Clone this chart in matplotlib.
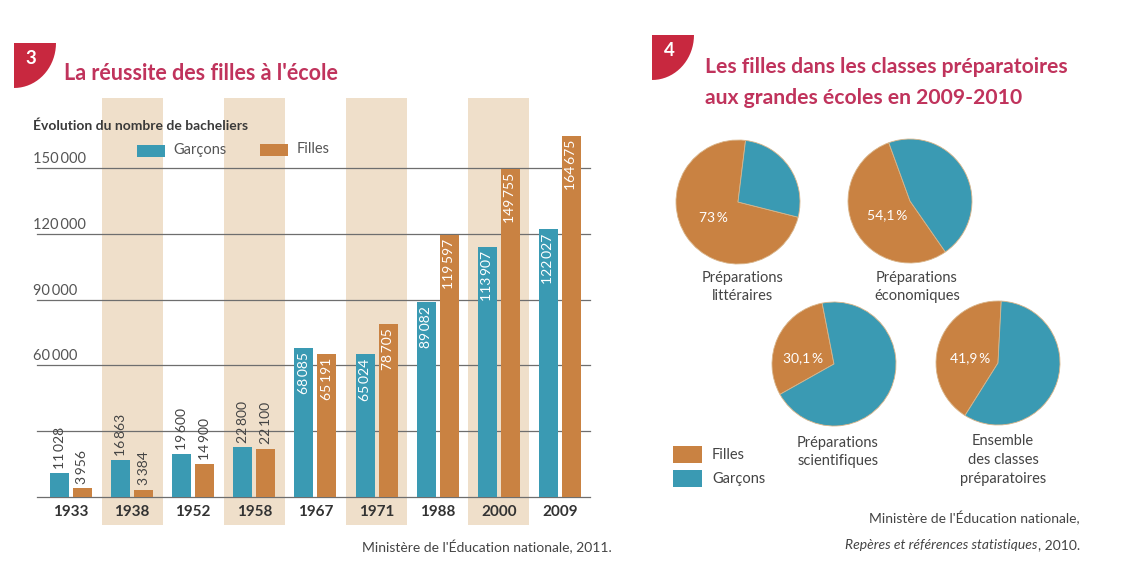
import matplotlib.pyplot as plt
import numpy as np
from matplotlib.patches import Polygon, Rectangle

plt.rcParams['font.family'] = ['Lato', 'DejaVu Sans']
plt.rcParams['text.color'] = '#3c3c3c'

W, H = 1122, 574

# data - bacheliers
years = ['1933', '1938', '1952', '1958', '1967', '1971', '1988', '2000', '2009']
garcons = [11028, 16863, 19600, 22800, 68085, 65024, 89082, 113907, 122027]
filles = [3956, 3384, 14900, 22100, 65191, 78705, 119597, 149755, 164675]
grid_values = [0, 30000, 60000, 90000, 120000, 150000]
grid_labels = ['', '', '60 000', '90 000', '120 000', '150 000']

# data - classes preparatoires (share of girls, %)
pie_names = ['Préparations\nlittéraires', 'Préparations\néconomiques',
             'Préparations\nscientifiques', 'Ensemble\ndes classes\npréparatoires']
pie_filles = [73, 54.1, 30.1, 41.9]
pie_labels = ['73 %', '54,1 %', '30,1 %', '41,9 %']

TEAL = '#3a9ab3'
ORANGE = '#c98242'
BAND = '#efdfca'
TITLE = '#c0335c'
BADGE = '#c8283f'


def rect(x0, y0, x1, y1):
    # pixel box -> figure fraction
    return [x0 / W, 1 - y1 / H, (x1 - x0) / W, (y1 - y0) / H]


def fmt(v):
    return '{:,}'.format(v).replace(',', '\u2009')


fig = plt.figure(figsize=(W / 100, H / 100), dpi=100, facecolor='white')

# ---- bar chart ----
ax = fig.add_axes(rect(33, 98, 615, 525))
step = 61.1
x0px, y0px = 71, 497
per_px = 150000 / (497 - 168)
ax.set_xlim((33 - x0px) / step, (615 - x0px) / step)
ax.set_ylim(-(525 - y0px) * per_px, 150000 + (168 - 98) * per_px)
ax.axis('off')

idx = np.arange(len(years))
for i in idx[1::2]:
    ax.axvspan(i - 0.5, i + 0.5, color=BAND, lw=0, zorder=0)

gx0, gx1 = (37 - x0px) / step, (590 - x0px) / step
for v, lab in zip(grid_values, grid_labels):
    ax.plot([gx0, gx1], [v, v], color='#6e6e6e', lw=0.9, zorder=1)
    if lab:
        ax.text(gx0 - 0.07, v + 2 * per_px, lab.replace(' ', '\u2009'),
                fontsize=10.5, color='#555555', va='bottom', ha='left')

bw = 19 / step
off = 11.5 / step
ax.bar(idx - off, garcons, bw, color=TEAL, zorder=2)
ax.bar(idx + off, filles, bw, color=ORANGE, zorder=2)

for i in idx:
    for xx, v in ((i - off, garcons[i]), (i + off, filles[i])):
        if i < 4:
            ax.annotate(fmt(v), (xx, v), xytext=(0, 3), textcoords='offset points',
                        rotation=90, ha='center', va='bottom', fontsize=10,
                        color='#444444', zorder=3)
        else:
            ax.annotate(fmt(v), (xx, v), xytext=(0, -3), textcoords='offset points',
                        rotation=90, ha='center', va='top', fontsize=10,
                        color='white', zorder=3)
    ax.text(i, -15 * per_px, years[i], ha='center', va='center',
            fontsize=11, fontweight='bold', color='#333333')

# ---- pies ----
pie_centers = [(738, 202), (910, 201), (834, 364), (998, 363)]
pie_radius = 62
pie_start = [83, 110, 101, 87]
for (cx, cy), f, st in zip(pie_centers, pie_filles, pie_start):
    pa = fig.add_axes(rect(cx - pie_radius, cy - pie_radius, cx + pie_radius, cy + pie_radius))
    pa.pie([f, 100 - f], colors=[ORANGE, TEAL], startangle=st, counterclock=True,
           wedgeprops=dict(linewidth=0.6, edgecolor='#d9b58a'))
    pa.set_xlim(-1, 1)
    pa.set_ylim(-1, 1)

# ---- overlay in pixel coordinates ----
ov = fig.add_axes([0, 0, 1, 1], zorder=10)
ov.set_xlim(0, W)
ov.set_ylim(H, 0)
ov.axis('off')
ov.patch.set_alpha(0)


def badge(x, y, num):
    t = np.linspace(0, np.pi / 2, 20)
    pts = [(x, y)] + [(x + 42 * np.cos(a), y + 45 * np.sin(a)) for a in t]
    ov.add_patch(Polygon(pts, closed=True, color=BADGE, lw=0))
    ov.text(x + 17, y + 16, num, color='white', fontsize=13.5, fontweight='bold',
            ha='center', va='center')


badge(14, 43, '3')
ov.text(64, 73, "La réussite des filles à l'école", color=TITLE, fontsize=15.5,
        fontweight='bold', va='center', ha='left')
ov.text(33, 126, 'Évolution du nombre de bacheliers', color='#3a3a3a', fontsize=10,
        fontweight='bold', va='center', ha='left')
ov.add_patch(Rectangle((137, 145), 28, 12, color=TEAL, lw=0))
ov.text(173, 150, 'Garçons', fontsize=10.5, va='center', color='#555555')
ov.add_patch(Rectangle((260, 144), 28, 12, color=ORANGE, lw=0))
ov.text(297, 149, 'Filles', fontsize=10.5, va='center', color='#555555')
ov.text(612, 547, "Ministère de l'Éducation nationale, 2011.", fontsize=10,
        ha='right', va='center', color='#444444')

badge(652, 35, '4')
ov.text(705, 67, 'Les filles dans les classes préparatoires', color=TITLE,
        fontsize=15.2, fontweight='bold', va='center', ha='left')
ov.text(705, 98, 'aux grandes écoles en 2009-2010', color=TITLE,
        fontsize=15.2, fontweight='bold', va='center', ha='left')

pie_label_pos = [(713, 218), (887, 215), (803, 358), (970, 358)]
for (lx, ly), lab in zip(pie_label_pos, pie_labels):
    ov.text(lx, ly, lab.replace(' ', '\u2009'), color='white', fontsize=10,
            ha='center', va='center')

pie_name_pos = [(743, 287), (917, 287), (838, 452), (1003, 460)]
for (nx, ny), name in zip(pie_name_pos, pie_names):
    ov.text(nx, ny, name, fontsize=10.5, ha='center', va='center',
            color='#444444', linespacing=1.45)

ov.add_patch(Rectangle((673, 446), 29, 17, color=ORANGE, lw=0))
ov.text(712, 455, 'Filles', fontsize=10.5, va='center', color='#444444')
ov.add_patch(Rectangle((673, 470), 29, 17, color=TEAL, lw=0))
ov.text(712, 479, 'Garçons', fontsize=10.5, va='center', color='#444444')

ov.text(1080, 518, "Ministère de l'Éducation nationale,", fontsize=10,
        ha='right', va='center', color='#444444')
t1 = ov.text(1080, 545, ', 2010.', fontsize=10, ha='right', va='center',
             color='#444444')
ov.annotate('Repères et références statistiques', xy=(0, 0.5), xycoords=t1,
            ha='right', va='center', fontsize=10, style='italic', color='#444444')

fig.savefig('out.png', dpi=100)
